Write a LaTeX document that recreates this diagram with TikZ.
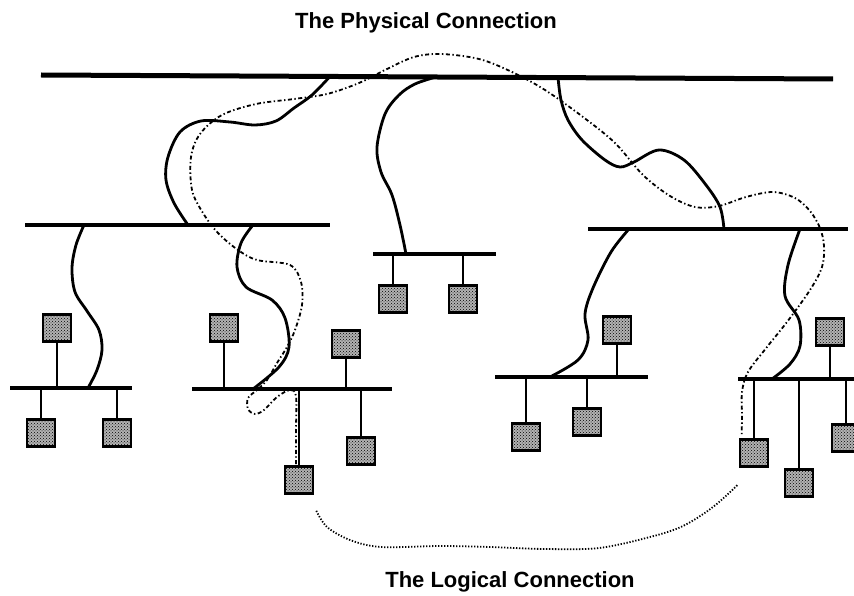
\documentclass[tikz,border=0pt]{standalone}
\usepackage{fontspec}
\setmainfont{Liberation Sans}
\usetikzlibrary{calc,patterns}
\begin{document}
\begin{tikzpicture}[x=1pt,y=-1pt,
  backbone/.style={line width=5pt},
  lan/.style={line width=3.4pt},
  cable/.style={line width=2.8pt},
  drop/.style={line width=1.7pt},
  logical/.style={line width=1.8pt, dash pattern=on 4pt off 2.5pt on 1.4pt off 2.5pt},
  logicaldots/.style={line width=1.8pt, dash pattern=on 1.3pt off 1.7pt},
  station/.style={draw, line width=2.6pt, pattern=crosshatch dots, pattern color=black,
    preaction={fill=gray!60}, minimum width=28pt, minimum height=27pt, inner sep=0pt},
  caption/.style={font=\bfseries\fontsize{22}{26}\selectfont, anchor=base, inner sep=0pt}]
\clip (0,0) rectangle (854,596);
\useasboundingbox (0,0) rectangle (854,596);

% captions
\node[caption] (phys) at (426,29) {The Physical Connection};
\node[caption] (logi) at (510,587) {The Logical Connection};

% backbone and segment buses
\coordinate (bbW) at (41,75);  \coordinate (bbE) at (833,79);
\coordinate (lW) at (25,225);  \coordinate (lE) at (330,225);
\coordinate (mW) at (373,254); \coordinate (mE) at (496,254);
\coordinate (rW) at (588,229); \coordinate (rE) at (848,229);
\coordinate (aW) at (10,388);  \coordinate (aE) at (132,388);
\coordinate (bW) at (192,389); \coordinate (bE) at (392,389);
\coordinate (cW) at (495,377); \coordinate (cE) at (648,377);
\coordinate (dW) at (738,379); \coordinate (dE) at (860,379);

\draw[backbone] (bbW) -- (bbE);
\draw[lan] (lW) -- (lE);
\draw[lan] (mW) -- (mE);
\draw[lan] (rW) -- (rE);
\draw[lan] (aW) -- (aE);
\draw[lan] (bW) -- (bE);
\draw[lan] (cW) -- (cE);
\draw[lan] (dW) -- (dE);

% tap points
\coordinate (t1) at ($(bbW)!0.3649!(bbE)$);
\coordinate (t2) at ($(bbW)!0.4987!(bbE)$);
\coordinate (t3) at ($(bbW)!0.6528!(bbE)$);
\coordinate (l1) at (84,225);  \coordinate (l2) at (253,225);
\coordinate (l3) at (188,225); \coordinate (m1) at (406,254);
\coordinate (r1) at (629,229); \coordinate (r2) at (800,229);
\coordinate (r3) at (724,229);
\coordinate (a1) at (88,388);  \coordinate (b1) at (253,389);
\coordinate (c1) at (550,377); \coordinate (d1) at (772,379);

% physical cables
\draw[cable] plot[smooth, tension=0.55] coordinates {(t1) (312,95) (294,108) (276,121) (255,125) (230,122) (201,121) (180,132) (168,157) (166,180) (174,203) (l3)};
\draw[cable] plot[smooth, tension=0.55] coordinates {(t2) (415,84) (399,95) (385,114) (377,147) (381,172) (392,195) (400,225) (m1)};
\draw[cable] plot[smooth, tension=0.55] coordinates {(t3) (561,100) (568,120) (582,140) (605,160) (620,167) (634,162) (659,150) (684,160) (706,185) (720,207) (r3)};
\draw[cable] plot[smooth, tension=0.55] coordinates {(l1) (76,245) (72,268) (75,292) (87,311) (99,330) (102,350) (97,370) (a1)};
\draw[cable] plot[smooth, tension=0.55] coordinates {(l2) (241,243) (237,267) (246,287) (272,300) (285,318) (289,347) (279,367) (b1)};
\draw[cable] plot[smooth, tension=0.55] coordinates {(r1) (611,252) (593,288) (585,314) (588,340) (578,360) (c1)};
\draw[cable] plot[smooth, tension=0.55] coordinates {(r2) (788,265) (785,296) (799,320) (800,346) (790,364) (d1)};

% stations
\node[station] (sA1) at (57,328) {};
\node[station] (sA2) at (41,433) {};
\node[station] (sA3) at (117,433) {};
\node[station] (sB1) at (224,328) {};
\node[station] (sB2) at (346,344) {};
\node[station] (sB3) at (361,451) {};
\node[station] (sB4) at (299,480) {};
\node[station] (sM1) at (393,299) {};
\node[station] (sM2) at (463,299) {};
\node[station] (sC1) at (617,330) {};
\node[station] (sC2) at (526,437) {};
\node[station] (sC3) at (587,422) {};
\node[station] (sD1) at (830,332) {};
\node[station] (sD2) at (754,453) {};
\node[station] (sD3) at (799,483) {};
\node[station] (sD4) at (846,438) {};

% drop cables
\draw[drop] (sA1.south) -- (sA1.south |- aW);
\draw[drop] (sA2.north) -- (sA2.north |- aW);
\draw[drop] (sA3.north) -- (sA3.north |- aW);
\draw[drop] (sB1.south) -- (sB1.south |- bW);
\draw[drop] (sB2.south) -- (sB2.south |- bW);
\draw[drop] (sB3.north) -- (sB3.north |- bW);
\draw[drop] (sB4.north) -- (sB4.north |- bW);
\draw[drop] (sM1.north) -- (sM1.north |- mW);
\draw[drop] (sM2.north) -- (sM2.north |- mW);
\draw[drop] (sC1.south) -- (sC1.south |- cW);
\draw[drop] (sC2.north) -- (sC2.north |- cW);
\draw[drop] (sC3.north) -- (sC3.north |- cW);
\draw[drop] (sD1.south) -- (sD1.south |- dW);
\draw[drop] (sD2.north) -- (sD2.north |- dW);
\draw[drop] (sD3.north) -- (sD3.north |- dW);
\draw[drop] (sD4.north) -- (sD4.north |- dW);

% logical connection
\coordinate (lgS) at ($(sB4.north)+(-3,-1)$);
\coordinate (lgE) at ($(sD2.north west)+(3,-4)$);
\draw[logical] plot[smooth, tension=0.55] coordinates {(lgS) (296,430) (296,396) (290,390) (277,397) (264,410) (255,414) (248,409) (248,398) (257,390) (267,380) (277,363) (287,347) (295,330) (302,305) (301,282) (290,265) (257,260) (238,250) (218,233) (203,213) (192,190) (191,157) (200,134) (222,115) (256,104) (294,99) (327,94) (359,83) (387,69) (414,57) (441,54) (479,59) (512,72) (545,90) (583,117) (615,143) (643,175) (670,196) (695,207) (719,206) (746,197) (773,192) (795,198) (810,211) (820,228) (824,246) (822,267) (810,290) (787,322) (767,347) (748,372) (742,392) (742,415) (lgE)};
\coordinate (ldS) at ($(sB4.south east)+(2,16)$);
\coordinate (ldE) at ($(sD2.south west)+(-1,17)$);
\draw[logicaldots] plot[smooth, tension=0.55] coordinates {(ldS) (327,527) (350,540) (381,547) (440,546) (490,547) (545,549) (599,548) (650,537) (683,526) (713,507) (ldE)};
\end{tikzpicture}
\end{document}
